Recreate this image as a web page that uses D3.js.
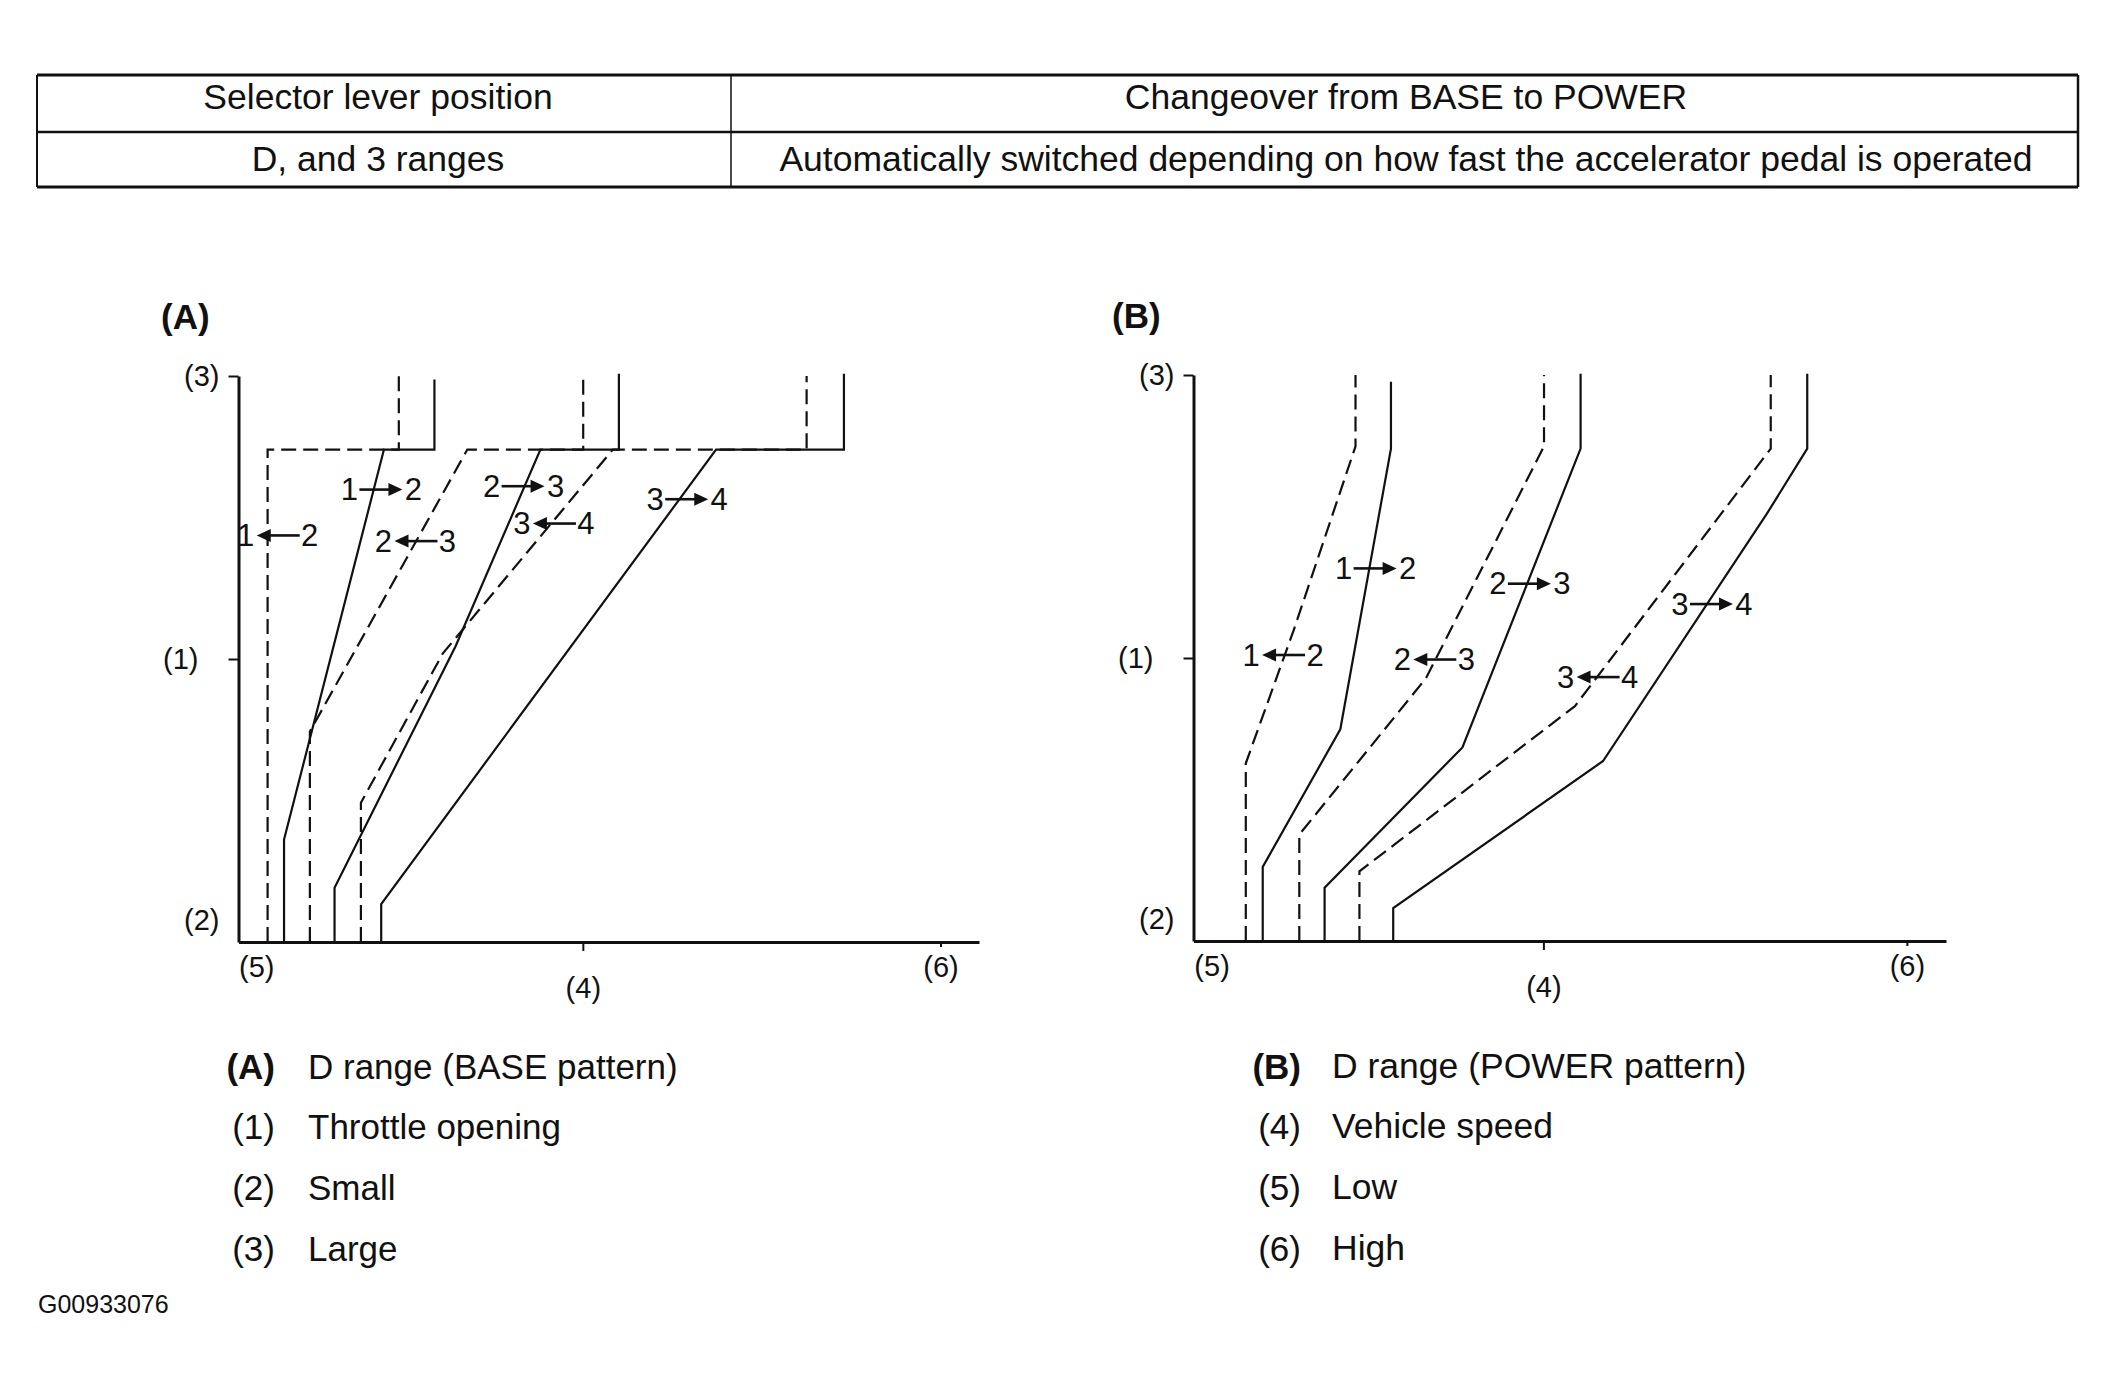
<!DOCTYPE html>
<html><head><meta charset="utf-8">
<script src="https://cdn.jsdelivr.net/npm/d3@7"></script>
<style>
body{margin:0;background:#fff}
svg{display:block}
text{font-family:"Liberation Sans",Arial,Helvetica,sans-serif;fill:#111}
</style>
</head><body>
<svg id="c" width="2116" height="1387"></svg>
<script>
// ---------- data ----------
const tableHeaders = ["Selector lever position", "Changeover from BASE to POWER"];
const tableRow = ["D, and 3 ranges", "Automatically switched depending on how fast the accelerator pedal is operated"];

const yTickValues = [0, 50, 100];
const yTickLabels = ["(2)", "(1)", "(3)"];
const xTickValues = [2.4, 46.5, 94.8];
const xTickLabels = ["(5)", "(4)", "(6)"];

// BASE pattern shift lines: [vehicle speed, throttle opening] (0-100 relative units)
const baseUp12   = [[6.15,0],[6.15,18.1],[19.64,87.0],[26.46,87.0],[26.46,99.4]];
const baseDown12 = [[3.93,0],[3.93,87.0],[21.65,87.0],[21.65,100]];
const baseUp23   = [[12.97,0],[12.97,9.6],[29.3,52.2],[40.77,87.0],[51.37,87.0],[51.37,100.4]];
const baseDown23 = [[9.64,0],[9.64,37.2],[30.9,87.0],[46.55,87.0],[46.55,100]];
const baseUp34   = [[19.27,0],[19.27,6.7],[64.49,87.0],[81.76,87.0],[81.76,100.4]];
const baseDown34 = [[16.53,0],[16.53,24.6],[27.6,51.0],[50.56,87.0],[76.72,87.0],[76.72,100]];

// POWER pattern shift lines
const powerUp12   = [[9.2,0],[9.2,13.1],[19.51,37.4],[26.24,87.0],[26.24,98.8]];
const powerDown12 = [[6.95,0],[6.95,31.4],[13.31,54.9],[21.53,87.4],[21.53,100]];
const powerUp23   = [[17.42,0],[17.42,9.4],[35.74,34.2],[51.44,87.0],[51.44,100.2]];
const powerDown23 = [[14.06,0],[14.06,18.8],[30.88,46.4],[46.58,87.4],[46.58,100]];
const powerUp34   = [[26.54,0],[26.54,5.8],[54.43,31.8],[76.2,75.5],[81.56,87.0],[81.56,100.2]];
const powerDown34 = [[22.05,0],[22.05,12.3],[50.69,41.5],[76.71,87.0],[76.71,100]];

const shiftText   = ["1→2","1←2","2→3","2←3","3→4","3←4"];
const baseShiftX  = [19.3, 5.3, 38.5, 23.9, 60.6, 42.6];
const baseShiftY  = [79.4, 71.3, 80.0, 70.3, 77.7, 73.4];
const powerShiftX = [24.2, 11.9, 44.7, 32.0, 68.9, 53.7];
const powerShiftY = [65.3, 50.0, 62.6, 49.2, 59.0, 46.1];

const legendLeftKeys  = ["(A)","(1)","(2)","(3)"];
const legendLeftText  = ["D range (BASE pattern)","Throttle opening","Small","Large"];
const legendRightKeys = ["(B)","(4)","(5)","(6)"];
const legendRightText = ["D range (POWER pattern)","Vehicle speed","Low","High"];
const figureId = "G00933076";

// ---------- drawing ----------
const svg = d3.select("#c");
const INK = "#111";

// table
const T = {x0:37, x1:2078, xm:731, y0:75, ym:132, y1:187};
const tb = svg.append("g");
tb.append("line").attr("x1",T.x0).attr("x2",T.x1).attr("y1",T.y0).attr("y2",T.y0).attr("stroke",INK).attr("stroke-width",3);
tb.append("line").attr("x1",T.x0).attr("x2",T.x1).attr("y1",T.y1).attr("y2",T.y1).attr("stroke",INK).attr("stroke-width",3);
tb.append("line").attr("x1",T.x0).attr("x2",T.x1).attr("y1",T.ym).attr("y2",T.ym).attr("stroke",INK).attr("stroke-width",2.5);
tb.append("line").attr("x1",T.x0).attr("x2",T.x0).attr("y1",T.y0).attr("y2",T.y1).attr("stroke",INK).attr("stroke-width",2);
tb.append("line").attr("x1",T.x1).attr("x2",T.x1).attr("y1",T.y0).attr("y2",T.y1).attr("stroke",INK).attr("stroke-width",2.5);
tb.append("line").attr("x1",T.xm).attr("x2",T.xm).attr("y1",T.y0).attr("y2",T.y1).attr("stroke",INK).attr("stroke-width",1.5);
const colCenters = [378, 1406];
tableHeaders.forEach((t,i)=>tb.append("text").attr("x",colCenters[i]).attr("y",96.5).attr("text-anchor","middle")
  .attr("dominant-baseline","central").attr("font-size",35.5).text(t));
tableRow.forEach((t,i)=>tb.append("text").attr("x",colCenters[i]).attr("y",159).attr("text-anchor","middle")
  .attr("dominant-baseline","central").attr("font-size",35.5).text(t));

function drawChart(cfg){
  const g = svg.append("g");
  const x = d3.scaleLinear().domain([0,100]).range([cfg.left, cfg.right]);
  const y = d3.scaleLinear().domain([0,100]).range([cfg.bottom, cfg.top]);

  // title
  g.append("text").attr("x",cfg.titleX).attr("y",cfg.titleY).attr("dominant-baseline","central")
    .attr("font-size",35).attr("font-weight","bold").text(cfg.title);

  // y axis
  const gy = g.append("g").attr("transform",`translate(${cfg.left},0)`)
    .call(d3.axisLeft(y).tickValues(yTickValues).tickFormat((d,i)=>yTickLabels[i]).tickSize(10).tickSizeOuter(0));
  gy.select(".domain").attr("stroke",INK).attr("stroke-width",3);
  gy.selectAll(".tick line").attr("stroke",INK).attr("stroke-width",2)
    .attr("display",d=>d===0?"none":null);
  gy.selectAll(".tick text").attr("font-size",29).attr("fill",INK)
    .attr("font-family","'Liberation Sans',Arial,sans-serif")
    .attr("x",d=>d===50?-40:-19).attr("dy",d=>d===0?"-0.42em":"0.32em");

  // x axis
  const gx = g.append("g").attr("transform",`translate(0,${cfg.bottom})`)
    .call(d3.axisBottom(x).tickValues(xTickValues).tickFormat((d,i)=>xTickLabels[i]).tickSize(9).tickSizeOuter(0));
  gx.select(".domain").attr("stroke",INK).attr("stroke-width",3);
  gx.selectAll(".tick line").attr("stroke",INK).attr("stroke-width",2)
    .attr("display",(d,i)=>i===0?"none":null).attr("y2",(d,i)=>i===2?5:9);
  gx.selectAll(".tick text").attr("font-size",29).attr("fill",INK)
    .attr("font-family","'Liberation Sans',Arial,sans-serif")
    .attr("y",(d,i)=>i===1?46:25).attr("dy","0.35em");

  // shift lines
  const line = d3.line().x(d=>x(d[0])).y(d=>y(d[1]));
  cfg.lines.forEach(([pts,dashed])=>{
    g.append("path").attr("d",line(pts)).attr("fill","none").attr("stroke",INK)
      .attr("stroke-width",2.2).attr("stroke-linejoin","miter")
      .attr("stroke-dasharray",dashed?"15,7":null);
  });

  // shift labels
  shiftText.forEach((s,i)=>{
    const a = s[0], b = s[2], right = s[1]==="→";
    const lg = g.append("g").attr("transform",`translate(${x(cfg.lx[i])},${y(cfg.ly[i]) - 3})`);
    lg.append("text").attr("x",-32).attr("text-anchor","middle").attr("dominant-baseline","central").attr("font-size",31).text(a);
    lg.append("text").attr("x",32).attr("text-anchor","middle").attr("dominant-baseline","central").attr("font-size",31).text(b);
    if(right){
      lg.append("line").attr("x1",-22).attr("x2",9).attr("y1",0).attr("y2",0).attr("stroke",INK).attr("stroke-width",2.6);
      lg.append("path").attr("d","M21,0L7,-6.5L7,6.5Z").attr("fill",INK);
    } else {
      lg.append("line").attr("x1",-9).attr("x2",22).attr("y1",0).attr("y2",0).attr("stroke",INK).attr("stroke-width",2.6);
      lg.append("path").attr("d","M-21,0L-7,-6.5L-7,6.5Z").attr("fill",INK);
    }
  });
}

drawChart({title:"(A)", titleX:161, titleY:316, left:238.5, right:979, top:376, bottom:942,
  lx:baseShiftX, ly:baseShiftY,
  lines:[[baseUp12,false],[baseDown12,true],[baseUp23,false],[baseDown23,true],[baseUp34,false],[baseDown34,true]]});
drawChart({title:"(B)", titleX:1112, titleY:315, left:1193.5, right:1946, top:375, bottom:941,
  lx:powerShiftX, ly:powerShiftY,
  lines:[[powerUp12,false],[powerDown12,true],[powerUp23,false],[powerDown23,true],[powerUp34,false],[powerDown34,true]]});

// legend
const legendY = [1066, 1126, 1187, 1248];
function legend(keys, texts, keyRight, textX, size){
  keys.forEach((k,i)=>{
    svg.append("text").attr("x",keyRight).attr("y",legendY[i]).attr("text-anchor","end").attr("dominant-baseline","central")
      .attr("font-size",35).attr("font-weight",i===0?"bold":"normal").text(k);
    svg.append("text").attr("x",textX).attr("y",legendY[i]).attr("dominant-baseline","central")
      .attr("font-size",size).text(texts[i]);
  });
}
legend(legendLeftKeys, legendLeftText, 275, 308, 35);
legend(legendRightKeys, legendRightText, 1301, 1332, 35.5);

svg.append("text").attr("x",38).attr("y",1304).attr("dominant-baseline","central").attr("font-size",25).text(figureId);
</script>
</body></html>
